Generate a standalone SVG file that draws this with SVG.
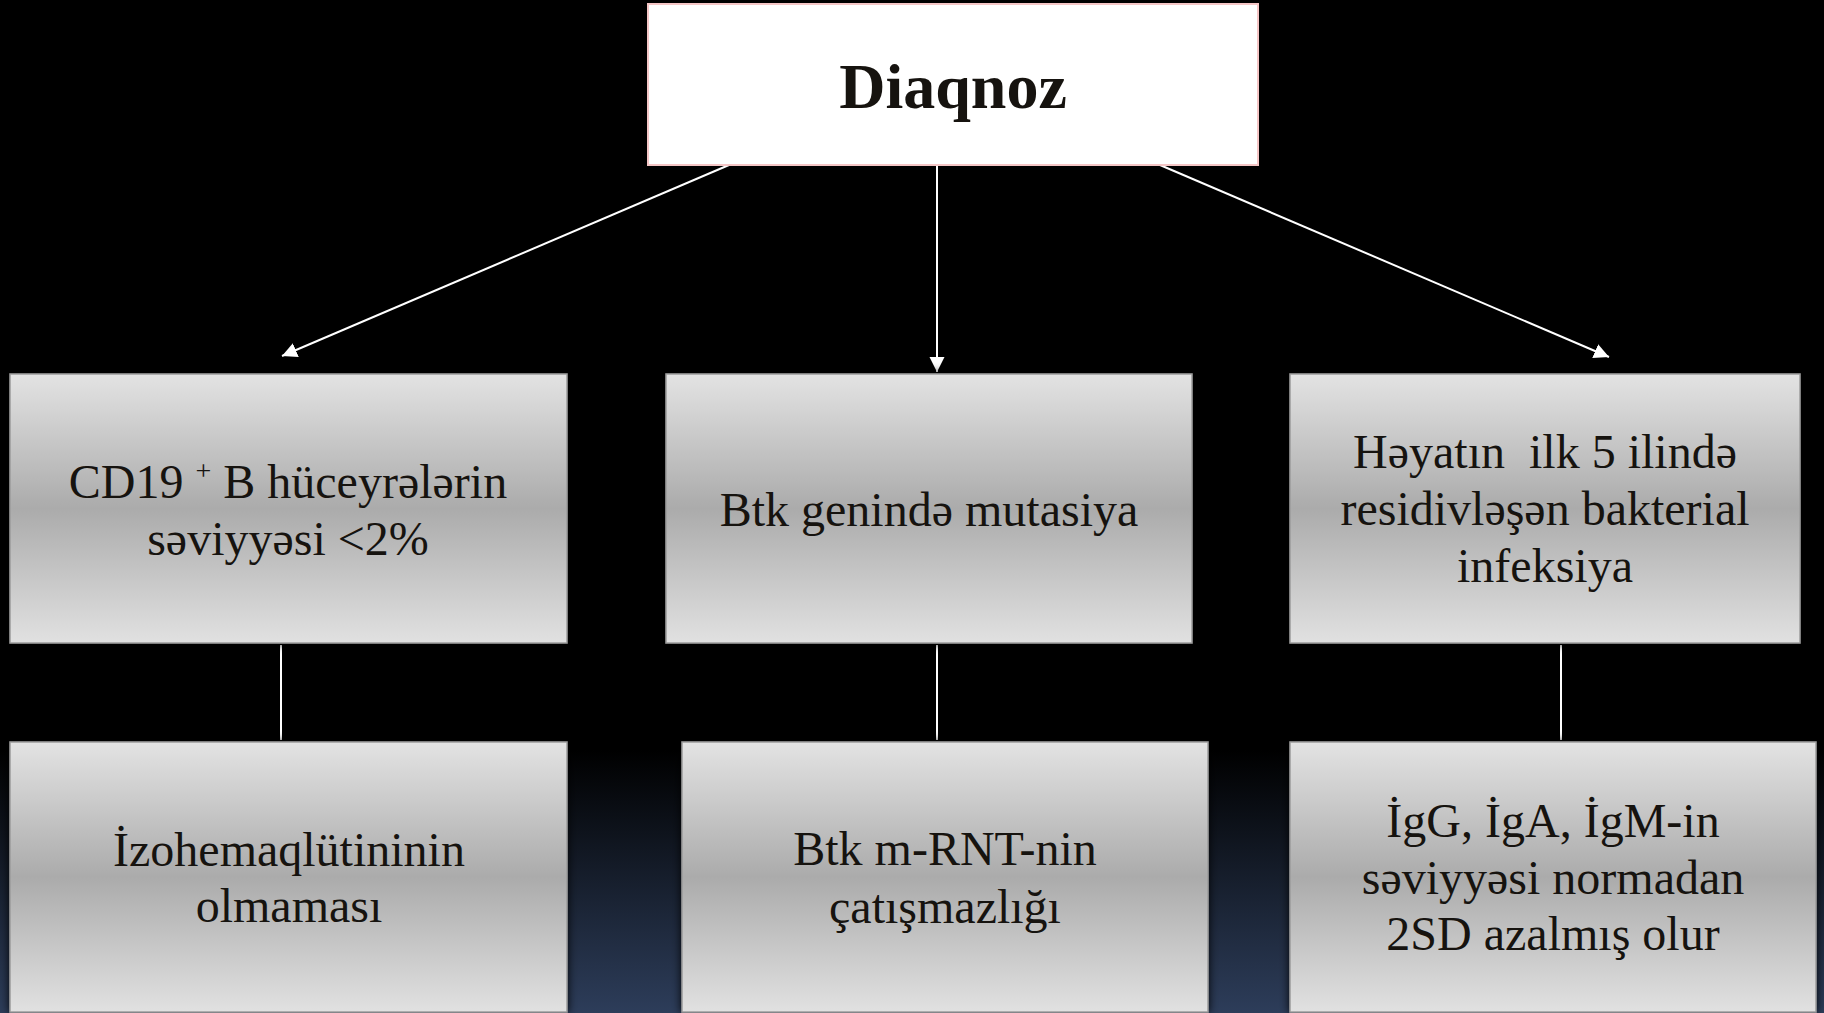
<svg xmlns="http://www.w3.org/2000/svg" width="1824" height="1013" viewBox="0 0 1824 1013">
<defs>
  <linearGradient id="bg" x1="0" y1="0" x2="0" y2="1">
    <stop offset="0" stop-color="#000000"/>
    <stop offset="1" stop-color="#2d3d5a"/>
  </linearGradient>
  <linearGradient id="boxfill" x1="0" y1="0" x2="0" y2="1">
    <stop offset="0" stop-color="#e3e3e3"/>
    <stop offset="0.5" stop-color="#ababab"/>
    <stop offset="1" stop-color="#e1e1e1"/>
  </linearGradient>
  <filter id="shadow" x="-10%" y="-10%" width="120%" height="120%">
    <feDropShadow dx="0" dy="0" stdDeviation="5" flood-color="#000000" flood-opacity="0.95"/>
  </filter>
  <marker id="arrow" markerUnits="userSpaceOnUse" markerWidth="16" markerHeight="16" viewBox="0 0 16 16" refX="15" refY="8" orient="auto">
    <path d="M0,0.5 L15,8 L0,15.5 z" fill="#ffffff"/>
  </marker>
  <style>
    .box { fill: url(#boxfill); stroke: #9c9c9c; stroke-width: 1.5; filter: url(#shadow); }
    .txt { font-family: "Liberation Serif", "Times New Roman", serif; font-size: 48px; fill: #16130f; text-anchor: middle; }
    .title { font-family: "Liberation Serif", "Times New Roman", serif; font-size: 64px; font-weight: bold; fill: #16130f; text-anchor: middle; }
    .conn { stroke: #ffffff; stroke-width: 2; fill: none; }
  </style>
</defs>

<rect x="0" y="0" width="1824" height="1013" fill="#000000"/>
<rect x="0" y="750" width="1824" height="263" fill="url(#bg)"/>

<g id="connectors">
  <line class="conn" x1="729" y1="165" x2="282" y2="356" marker-end="url(#arrow)"/>
  <line class="conn" x1="937" y1="165" x2="937" y2="372" marker-end="url(#arrow)"/>
  <line class="conn" x1="1160" y1="165" x2="1609" y2="357" marker-end="url(#arrow)"/>
  <line class="conn" x1="281" y1="645" x2="281" y2="740"/>
  <line class="conn" x1="937" y1="645" x2="937" y2="740"/>
  <line class="conn" x1="1561" y1="645" x2="1561" y2="740"/>
</g>

<g id="node-diaqnoz">
  <rect x="648" y="4" width="610" height="161" fill="#ffffff" stroke="#f5c6c6" stroke-width="2"/>
  <text class="title" x="953" y="108">Diaqnoz</text>
</g>

<g id="node-cd19">
  <rect class="box" x="10" y="374" width="557" height="269"/>
  <text class="txt" x="288" y="498">CD19 <tspan font-size="28" dy="-18">+</tspan><tspan dy="18"> B hüceyrələrin</tspan></text>
  <text class="txt" x="288" y="555">səviyyəsi &lt;2%</text>
</g>

<g id="node-btk">
  <rect class="box" x="666" y="374" width="526" height="269"/>
  <text class="txt" x="929" y="526">Btk genində mutasiya</text>
</g>

<g id="node-heyat">
  <rect class="box" x="1290" y="374" width="510" height="269"/>
  <text class="txt" x="1545" y="468" xml:space="preserve">Həyatın  ilk 5 ilində</text>
  <text class="txt" x="1545" y="525">residivləşən bakterial</text>
  <text class="txt" x="1545" y="582">infeksiya</text>
</g>

<g id="node-izohem">
  <rect class="box" x="10" y="742" width="557" height="270"/>
  <text class="txt" x="289" y="866">İzohemaqlütininin</text>
  <text class="txt" x="289" y="922">olmaması</text>
</g>

<g id="node-mrnt">
  <rect class="box" x="682" y="742" width="526" height="270"/>
  <text class="txt" x="945" y="865">Btk m-RNT-nin</text>
  <text class="txt" x="945" y="923">çatışmazlığı</text>
</g>

<g id="node-ig">
  <rect class="box" x="1290" y="742" width="526" height="270"/>
  <text class="txt" x="1553" y="837">İgG, İgA, İgM-in</text>
  <text class="txt" x="1553" y="894">səviyyəsi normadan</text>
  <text class="txt" x="1553" y="950">2SD azalmış olur</text>
</g>
</svg>
